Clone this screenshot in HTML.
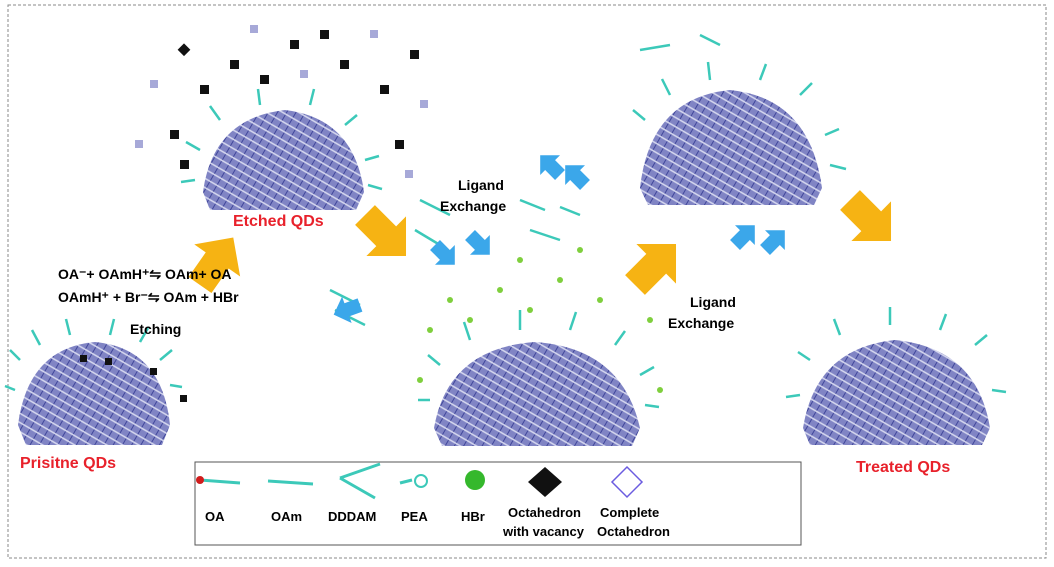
<!DOCTYPE html>
<html><head><meta charset="utf-8"><style>
html,body{margin:0;padding:0;background:#fff}
svg{display:block}
text{font-family:"Liberation Sans",Arial,sans-serif;font-weight:bold}
</style></head><body>
<svg width="1054" height="567" viewBox="0 0 1054 567" xmlns="http://www.w3.org/2000/svg">
<defs>
<pattern id="hat" width="8" height="8" patternUnits="userSpaceOnUse" patternTransform="rotate(30)">
<rect width="8" height="8" fill="#8084c4"/>
<line x1="0" y1="0" x2="0" y2="8" stroke="#40469a" stroke-width="2"/>
<line x1="0" y1="4" x2="8" y2="4" stroke="#d8daf0" stroke-width="1.5"/>
</pattern>
<g id="ya"><polygon points="0,-14 30,-14 30,-28 58,0 30,28 30,14 0,14" fill="#f6b313"/></g>
<g id="ba"><polygon points="0,-7 14,-7 14,-14 28,0 14,14 14,7 0,7" fill="#3ba7ea"/></g>
</defs>
<rect x="8" y="5" width="1038" height="553" fill="none" stroke="#888" stroke-dasharray="3,2"/>
<path d="M18,425 Q28,348 95,342 Q162,348 170,425 L162,445 L26,445 Z" fill="url(#hat)"/>
<path d="M203,192 Q213,118 285,110 Q354,118 364,192 L356,210 L210,210 Z" fill="url(#hat)"/>
<path d="M434,428 Q448,348 535,342 Q622,348 640,428 L632,446 L442,446 Z" fill="url(#hat)"/>
<path d="M640,188 Q650,98 730,90 Q810,98 822,188 L814,205 L648,205 Z" fill="url(#hat)"/>
<path d="M803,428 Q816,348 895,340 Q977,348 990,428 L982,445 L810,445 Z" fill="url(#hat)"/>
<g stroke="#3cc9b9" stroke-width="2.5" fill="none">
<path d="M20,360 l-10,-10 M40,345 l-8,-15 M70,335 l-4,-16 M110,335 l4,-16 M140,342 l8,-14 M160,360 l12,-10 M15,390 l-10,-4 M170,385 l12,2"/>
<path d="M200,150 l-14,-8 M220,120 l-10,-14 M260,105 l-2,-16 M310,105 l4,-16 M345,125 l12,-10 M365,160 l14,-4 M195,180 l-14,2 M368,185 l14,4"/>
<path d="M440,365 l-12,-10 M470,340 l-6,-18 M520,330 l0,-20 M570,330 l6,-18 M615,345 l10,-14 M640,375 l14,-8 M430,400 l-12,0 M645,405 l14,2"/>
<path d="M645,120 l-12,-10 M670,95 l-8,-16 M710,80 l-2,-18 M760,80 l6,-16 M800,95 l12,-12 M825,135 l14,-6 M830,165 l16,4"/>
<path d="M810,360 l-12,-8 M840,335 l-6,-16 M890,325 l0,-18 M940,330 l6,-16 M975,345 l12,-10 M800,395 l-14,2 M992,390 l14,2"/>
<path d="M420,200 l30,15 M415,230 l25,15 M545,210 l-25,-10 M560,240 l-30,-10 M330,290 l30,15 M335,310 l30,15 M640,50 l30,-5 M700,35 l20,10 M580,215 l-20,-8"/>
</g>
<g fill="#111">
<rect x="180" y="45" width="9" height="9" transform="rotate(45 184 49)"/><rect x="230" y="60" width="9" height="9"/><rect x="290" y="40" width="9" height="9"/><rect x="340" y="60" width="9" height="9"/><rect x="170" y="130" width="9" height="9"/><rect x="200" y="85" width="9" height="9"/><rect x="380" y="85" width="9" height="9"/><rect x="395" y="140" width="9" height="9"/><rect x="260" y="75" width="9" height="9"/><rect x="320" y="30" width="9" height="9"/><rect x="180" y="160" width="9" height="9"/><rect x="410" y="50" width="9" height="9"/>
<rect x="105" y="358" width="7" height="7"/><rect x="150" y="368" width="7" height="7"/><rect x="180" y="395" width="7" height="7"/><rect x="80" y="355" width="7" height="7"/>
</g>
<g fill="#a7a9d8"><rect x="150" y="80" width="8" height="8"/><rect x="250" y="25" width="8" height="8"/><rect x="370" y="30" width="8" height="8"/><rect x="135" y="140" width="8" height="8"/><rect x="420" y="100" width="8" height="8"/><rect x="300" y="70" width="8" height="8"/><rect x="405" y="170" width="8" height="8"/></g>
<g fill="#7fcf3d"><circle cx="450" cy="300" r="3"/><circle cx="500" cy="290" r="3"/><circle cx="560" cy="280" r="3"/><circle cx="600" cy="300" r="3"/><circle cx="430" cy="330" r="3"/><circle cx="470" cy="320" r="3"/><circle cx="530" cy="310" r="3"/><circle cx="650" cy="320" r="3"/><circle cx="420" cy="380" r="3"/><circle cx="660" cy="390" r="3"/><circle cx="520" cy="260" r="3"/><circle cx="580" cy="250" r="3"/></g>
<use href="#ya" transform="translate(200,285) rotate(-55)"/>
<use href="#ya" transform="translate(365,215) rotate(45)"/>
<use href="#ya" transform="translate(635,285) rotate(-45)"/>
<use href="#ya" transform="translate(850,200) rotate(45)"/>
<use href="#ba" transform="translate(360,305) rotate(160)"/>
<use href="#ba" transform="translate(435,245) rotate(45)"/>
<use href="#ba" transform="translate(470,235) rotate(45)"/>
<use href="#ba" transform="translate(585,185) rotate(-135)"/>
<use href="#ba" transform="translate(560,175) rotate(-135)"/>
<use href="#ba" transform="translate(735,245) rotate(-45)"/>
<use href="#ba" transform="translate(765,250) rotate(-45)"/>
<text x="233" y="226" fill="#e8212b" font-size="16">Etched QDs</text>
<text x="20" y="468" fill="#e8212b" font-size="16">Prisitne QDs</text>
<text x="856" y="472" fill="#e8212b" font-size="16">Treated QDs</text>
<text x="458" y="190" font-size="14">Ligand</text>
<text x="440" y="211" font-size="14">Exchange</text>
<text x="690" y="307" font-size="14">Ligand</text>
<text x="668" y="328" font-size="14">Exchange</text>
<text x="58" y="279" font-size="14">OA⁻+ OAmH⁺⇋ OAm+ OA</text>
<text x="58" y="302" font-size="14">OAmH⁺ + Br⁻⇋ OAm + HBr</text>
<text x="130" y="334" font-size="14">Etching</text>
<rect x="195" y="462" width="606" height="83" fill="#fff" stroke="#555"/>
<g stroke="#3cc9b9" stroke-width="3" fill="none"><path d="M200,480 l40,3"/><path d="M268,481 l45,3"/><path d="M340,478 l40,-14 M340,478 l35,20"/><path d="M400,483 l12,-3"/></g>
<circle cx="200" cy="480" r="4" fill="#d01c1c"/>
<circle cx="421" cy="481" r="6" fill="none" stroke="#3cc9b9" stroke-width="2"/>
<circle cx="475" cy="480" r="10" fill="#35b82c"/>
<polygon points="545,467 562,482 545,497 528,482" fill="#111"/>
<polygon points="627,467 642,482 627,497 612,482" fill="none" stroke="#6b5ce0" stroke-width="1.5"/>
<g font-size="13"><text x="205" y="521">OA</text><text x="271" y="521">OAm</text><text x="328" y="521">DDDAM</text><text x="401" y="521">PEA</text><text x="461" y="521">HBr</text>
<text x="508" y="517">Octahedron</text><text x="503" y="536">with vacancy</text><text x="600" y="517">Complete</text><text x="597" y="536">Octahedron</text></g>
</svg>
</body></html>
